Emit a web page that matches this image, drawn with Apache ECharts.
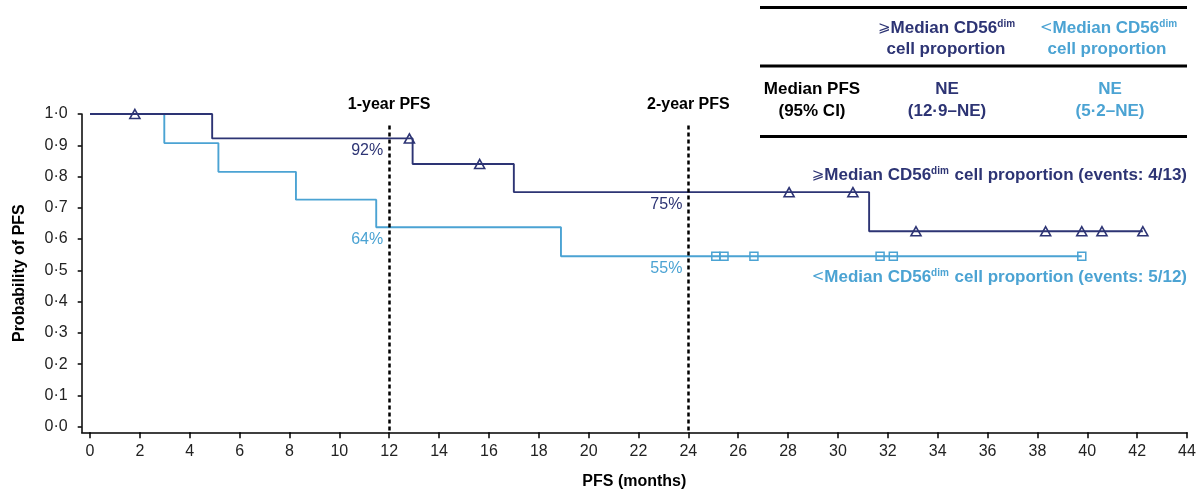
<!DOCTYPE html>
<html>
<head>
<meta charset="utf-8">
<script src="https://cdn.jsdelivr.net/npm/echarts@6/dist/echarts.min.js"></script>
<style>
html,body{margin:0;padding:0;background:#fff;}
#chart{width:1201px;height:492px;}
</style>
</head>
<body>
<div id="chart"></div>
<script>
// ---------- data ----------
const DARK = '#2d3474';
const LIGHT = '#4ba3d3';
const FONT = '"Liberation Sans", Arial, Helvetica, sans-serif';

const xTicks = [0,2,4,6,8,10,12,14,16,18,20,22,24,26,28,30,32,34,36,38,40,42,44];
const yTicks = [0,0.1,0.2,0.3,0.4,0.5,0.6,0.7,0.8,0.9,1.0];

// >= median CD56dim (step curve: times where the curve changes, survival after change)
const highTimes = [0, 4.9, 12.94, 17.0, 31.25, 42.23];
const highSurv  = [1.0, 0.922, 0.84, 0.75, 0.625, 0.625];
const highCensorTimes = [1.8, 12.81, 15.63, 28.04, 30.6, 33.13, 38.33, 39.78, 40.59, 42.23];
const highCensorSurv  = [1.0, 0.922, 0.84, 0.75, 0.75, 0.625, 0.625, 0.625, 0.625, 0.625];

// < median CD56dim
const lowTimes = [0, 2.98, 5.15, 8.26, 11.48, 18.89, 39.78];
const lowSurv  = [1.0, 0.907, 0.815, 0.726, 0.638, 0.545, 0.545];
const lowCensorTimes = [25.1, 25.43, 26.63, 31.69, 32.22, 39.78];
const lowCensorSurv  = [0.545, 0.545, 0.545, 0.545, 0.545, 0.545];

// landmark lines
const landmarkTimes = [12, 24];
const landmarkLabels = ['1-year PFS', '2-year PFS'];
const landmarkTop = 0.963;

// landmark survival annotations
const annotTimes = [12, 12, 24, 24];
const annotSurv  = [0.922, 0.638, 0.75, 0.545];
const annotText  = ['92%', '64%', '75%', '55%'];
const annotGroup = ['high', 'low', 'high', 'low'];

const highLegend = 'events: 4/13';
const lowLegend = 'events: 5/12';

const tableHeadHigh = ['Median CD56', 'cell proportion'];
const tableRowLabel = ['Median PFS', '(95% CI)'];
const tableHigh = ['NE', '(12·9–NE)'];
const tableLow = ['NE', '(5·2–NE)'];

// ---------- chart ----------
const chart = echarts.init(document.getElementById('chart'), null, {renderer: 'canvas'});

const fmtY = v => v.toFixed(1).replace('.', '·');

function pairs(xs, ys) { return xs.map((x, i) => [x, ys[i]]); }

function richStyle(color, size) {
  return {
    b: {fontSize: size, fontWeight: 'bold', fill: color, color: color, fontFamily: FONT},
    ge: {fontSize: size - 2, fontWeight: 'normal', fill: color, color: color, fontFamily: 'DejaVu Sans'},
    sup: {fontSize: 10, fontWeight: 'bold', fill: color, color: color, fontFamily: FONT, padding: [0, 1, 8, 0]}
  };
}

const TF = 'bold 17px ' + FONT;
const graphics = [];
// right-side legend texts
graphics.push({
  type: 'text', right: 14, top: 166,
  style: {
    text: '{ge|⩾}{b|Median CD56}{sup|dim}{b| cell proportion (' + highLegend + ')}',
    rich: richStyle(DARK, 17), fill: DARK
  }
});
graphics.push({
  type: 'text', right: 14, top: 268,
  style: {
    text: '{ge|<}{b|Median CD56}{sup|dim}{b| cell proportion (' + lowLegend + ')}',
    rich: richStyle(LIGHT, 17), fill: LIGHT
  }
});
// table rules
[7.5, 66, 136.5].forEach(y => {
  graphics.push({type: 'line', shape: {x1: 760, y1: y, x2: 1187, y2: y}, style: {stroke: '#000', lineWidth: 3}});
});
// table header
graphics.push({type: 'text', x: 947, y: 28, style: {text: '{ge|⩾}{b|' + tableHeadHigh[0] + '}{sup|dim}', rich: richStyle(DARK, 17), fill: DARK, align: 'center', verticalAlign: 'middle'}});
graphics.push({type: 'text', x: 946, y: 49, style: {text: tableHeadHigh[1], font: TF, fill: DARK, align: 'center', verticalAlign: 'middle'}});
graphics.push({type: 'text', x: 1109, y: 28, style: {text: '{ge|<}{b|' + tableHeadHigh[0] + '}{sup|dim}', rich: richStyle(LIGHT, 17), fill: LIGHT, align: 'center', verticalAlign: 'middle'}});
graphics.push({type: 'text', x: 1107, y: 49, style: {text: tableHeadHigh[1], font: TF, fill: LIGHT, align: 'center', verticalAlign: 'middle'}});
// table body
[0, 1].forEach(i => {
  const y = i === 0 ? 89 : 111;
  graphics.push({type: 'text', x: 812, y: y, style: {text: tableRowLabel[i], font: TF, fill: '#000', align: 'center', verticalAlign: 'middle'}});
  graphics.push({type: 'text', x: 947, y: y, style: {text: tableHigh[i], font: TF, fill: DARK, align: 'center', verticalAlign: 'middle'}});
  graphics.push({type: 'text', x: 1110, y: y, style: {text: tableLow[i], font: TF, fill: LIGHT, align: 'center', verticalAlign: 'middle'}});
});

const option = {
  animation: false,
  backgroundColor: '#fff',
  textStyle: {fontFamily: FONT},
  grid: {left: 81.7, right: 14, top: 114, bottom: 59.7, containLabel: false, outerBoundsMode: 'none'},
  xAxis: {
    type: 'value', min: -0.333, max: 44,
    name: 'PFS (months)', nameLocation: 'middle', nameGap: 41,
    nameTextStyle: {fontWeight: 'bold', fontSize: 16, color: '#000', fontFamily: FONT},
    axisLine: {show: true, onZero: false, lineStyle: {color: '#000', width: 1.5}},
    axisTick: {show: true, length: 6, customValues: xTicks, lineStyle: {color: '#000', width: 1.5}},
    axisLabel: {customValues: xTicks, margin: 11, fontSize: 16, color: '#222', fontFamily: FONT},
    splitLine: {show: false}
  },
  yAxis: {
    type: 'value', min: -0.018, max: 1.0,
    name: 'Probability of PFS', nameLocation: 'middle', nameGap: 54,
    nameTextStyle: {fontWeight: 'bold', fontSize: 16, color: '#000', fontFamily: FONT},
    axisLine: {show: true, onZero: false, lineStyle: {color: '#000', width: 1.5}},
    axisTick: {show: true, length: 4, customValues: yTicks, lineStyle: {color: '#000', width: 1.5}},
    axisLabel: {customValues: yTicks, margin: 14, fontSize: 16, color: '#222', fontFamily: FONT, formatter: fmtY},
    splitLine: {show: false}
  },
  graphic: graphics,
  series: [
    {
      type: 'line', name: 'low', step: 'end', data: pairs(lowTimes, lowSurv),
      showSymbol: false, lineStyle: {color: LIGHT, width: 1.9}, z: 2,
      markLine: {
        silent: true, symbol: 'none',
        lineStyle: {color: '#000', width: 2.5, type: [4, 3]},
        label: {show: false},
        data: landmarkTimes.map(t => [{coord: [t, landmarkTop]}, {coord: [t, -0.018]}])
      }
    },
    {
      type: 'line', name: 'high', step: 'end', data: pairs(highTimes, highSurv),
      showSymbol: false, lineStyle: {color: DARK, width: 1.9}, z: 3
    },
    {
      type: 'scatter', name: 'lowCensor', data: pairs(lowCensorTimes, lowCensorSurv),
      symbol: 'rect', symbolSize: 8,
      itemStyle: {color: 'rgba(0,0,0,0)', borderColor: LIGHT, borderWidth: 1.5, opacity: 1}, z: 4
    },
    {
      type: 'scatter', name: 'highCensor', data: pairs(highCensorTimes, highCensorSurv),
      symbol: 'triangle', symbolSize: [10, 9],
      itemStyle: {color: 'rgba(0,0,0,0)', borderColor: DARK, borderWidth: 1.6, opacity: 1}, z: 5
    },
    {
      type: 'scatter', name: 'annotations', clip: false, silent: true,
      symbolSize: 0, z: 6, itemStyle: {opacity: 1},
      data: annotTimes.map((t, i) => ({
        value: [t, annotSurv[i]],
        label: {
          show: true, formatter: annotText[i], position: 'inside',
          align: 'right', verticalAlign: 'middle', offset: [-6, 12],
          fontSize: 16, color: annotGroup[i] === 'high' ? DARK : LIGHT, fontFamily: FONT
        }
      }))
    },
    {
      type: 'scatter', name: 'landmarkLabels', clip: false, silent: true,
      symbolSize: 0, z: 6, itemStyle: {opacity: 1},
      data: landmarkTimes.map((t, i) => ({
        value: [t, landmarkTop],
        label: {
          show: true, formatter: landmarkLabels[i], position: 'inside',
          align: 'center', verticalAlign: 'middle', offset: [0, -21],
          fontSize: 16, fontWeight: 'bold', color: '#000', fontFamily: FONT
        }
      }))
    }
  ]
};
chart.setOption(option);
</script>
</body>
</html>
